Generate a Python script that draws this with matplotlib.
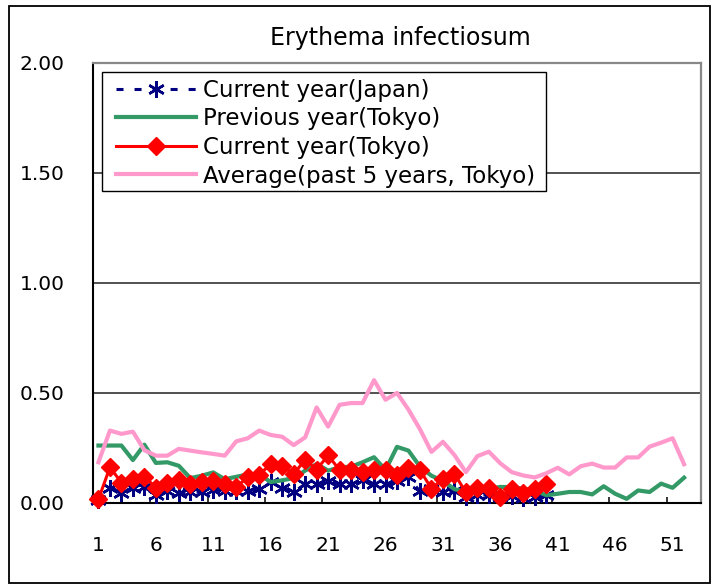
import matplotlib
matplotlib.use("Agg")
import matplotlib.pyplot as plt
from matplotlib.patches import Rectangle
from matplotlib.ticker import FixedLocator, NullFormatter, FixedFormatter

plt.rcParams['font.family'] = ['DejaVu Sans']

title = "Erythema infectiosum"
weeks = list(range(1, 53))
tick_labels = ["1", "6", "11", "16", "21", "26", "31", "36", "41", "46", "51"]

series_names = ["Current year(Japan)", "Previous year(Tokyo)",
                "Current year(Tokyo)", "Average(past 5 years, Tokyo)"]

japan_current = [0.015, 0.070, 0.047, 0.068, 0.072, 0.038, 0.053, 0.045, 0.048, 0.050,
                 0.057, 0.055, 0.055, 0.055, 0.062, 0.094, 0.068, 0.048, 0.086, 0.085,
                 0.102, 0.085, 0.085, 0.104, 0.087, 0.085, 0.100, 0.116, 0.053, 0.062,
                 0.050, 0.055, 0.025, 0.035, 0.037, 0.025, 0.032, 0.024, 0.025, 0.037]

tokyo_previous = [0.261, 0.261, 0.261, 0.195, 0.265, 0.182, 0.185, 0.169, 0.113, 0.124,
                  0.139, 0.108, 0.119, 0.130, 0.131, 0.095, 0.103, 0.113, 0.147, 0.177,
                  0.147, 0.162, 0.165, 0.185, 0.208, 0.150, 0.255, 0.238, 0.165, 0.124,
                  0.100, 0.063, 0.050, 0.055, 0.063, 0.073, 0.072, 0.065, 0.058, 0.035,
                  0.042, 0.050, 0.050, 0.039, 0.076, 0.042, 0.019, 0.057, 0.050, 0.088,
                  0.069, 0.115]

tokyo_current = [0.017, 0.162, 0.093, 0.108, 0.120, 0.070, 0.093, 0.104, 0.087, 0.095,
                 0.098, 0.088, 0.072, 0.118, 0.128, 0.177, 0.170, 0.131, 0.197, 0.152,
                 0.216, 0.150, 0.148, 0.142, 0.150, 0.152, 0.127, 0.158, 0.150, 0.065,
                 0.110, 0.133, 0.048, 0.066, 0.066, 0.027, 0.065, 0.046, 0.065, 0.086]

tokyo_average = [0.185, 0.329, 0.314, 0.324, 0.240, 0.215, 0.215, 0.246, 0.238, 0.230,
                 0.223, 0.215, 0.280, 0.294, 0.329, 0.309, 0.301, 0.263, 0.298, 0.434,
                 0.347, 0.446, 0.454, 0.454, 0.558, 0.469, 0.500, 0.424, 0.335, 0.232,
                 0.278, 0.218, 0.140, 0.213, 0.233, 0.180, 0.140, 0.125, 0.116, 0.135,
                 0.160, 0.130, 0.167, 0.179, 0.161, 0.161, 0.207, 0.207, 0.256, 0.274,
                 0.294, 0.176]

W, H = 718, 585
fig = plt.figure(figsize=(W / 100, H / 100), dpi=100)
fig.patch.set_facecolor("white")

# outer frame
fig.patches.append(Rectangle((9 / W, 1 - 583 / H), (710 - 9) / W, (583 - 6) / H,
                             transform=fig.transFigure, fill=False,
                             edgecolor="black", linewidth=1.3))

ax = fig.add_axes([92.7 / W, 1 - 503 / H, (701.3 - 92.7) / W, (503 - 62.7) / H])

wk_j = weeks[:len(japan_current)]
wk_c = weeks[:len(tokyo_current)]

ax.plot(wk_j, japan_current, color="#000080", linewidth=2.2, dashes=(2.3, 3.6),
        marker=(6, 2, 0), markersize=12, markeredgewidth=1.8,
        markeredgecolor="#000080", label=series_names[0], zorder=3, clip_on=False)
ax.plot(weeks, tokyo_previous, color="#339966", linewidth=3.0,
        label=series_names[1], zorder=4)
ax.plot(wk_c, tokyo_current, color="#FF0000", linewidth=2.2, marker="D",
        markersize=9.5, markeredgecolor="#FF0000", markerfacecolor="#FF0000",
        label=series_names[2], zorder=5, clip_on=False)
ax.plot(weeks, tokyo_average, color="#FF99CC", linewidth=3.0,
        label=series_names[3], zorder=6)

ax.set_xlim(0.5, 53.5)
ax.set_ylim(0, 2.0)

ax.set_yticks([0, 0.5, 1.0, 1.5, 2.0])
ax.set_yticklabels([f"{v:.2f}" for v in [0, 0.5, 1.0, 1.5, 2.0]])
ax.tick_params(axis="y", length=0, pad=20, labelsize=14.5)
for yv in [0.5, 1.0, 1.5]:
    ax.axhline(yv, color="#333333", linewidth=1.2, zorder=1)

label_pos = [int(t) for t in tick_labels]
ax.xaxis.set_major_locator(FixedLocator([5.5 + 5 * i for i in range(10)]))
ax.xaxis.set_major_formatter(NullFormatter())
ax.xaxis.set_minor_locator(FixedLocator(label_pos))
ax.xaxis.set_minor_formatter(FixedFormatter(tick_labels))
ax.tick_params(axis="x", which="major", direction="in", length=4.5, width=1.1,
               color="black")
ax.tick_params(axis="x", which="minor", length=0, pad=24, labelsize=14.5)

for side in ["left", "bottom"]:
    ax.spines[side].set_color("black")
    ax.spines[side].set_linewidth(1.5)
for side in ["top", "right"]:
    ax.spines[side].set_color("#888888")
    ax.spines[side].set_linewidth(1.6)

fig.text(400 / W, 1 - 38 / H, title, ha="center", va="center", fontsize=17)

# legend frame drawn separately for exact placement
frame = Rectangle((102 / W, 1 - 191 / H), (546 - 102) / W, (191 - 72) / H,
                  transform=fig.transFigure, facecolor="white",
                  edgecolor="black", linewidth=1.0, zorder=9, clip_on=False)
ax.add_artist(frame)

leg = ax.legend(loc="upper left", bbox_to_anchor=(116 / W, 1 - 79 / H),
                bbox_transform=fig.transFigure, fontsize=16.5, frameon=False,
                borderaxespad=0, borderpad=0, labelspacing=0.24,
                handlelength=3.5, handletextpad=0.3, markerscale=1.0)
leg.set_zorder(10)

fig.savefig("out.png", dpi=100)
